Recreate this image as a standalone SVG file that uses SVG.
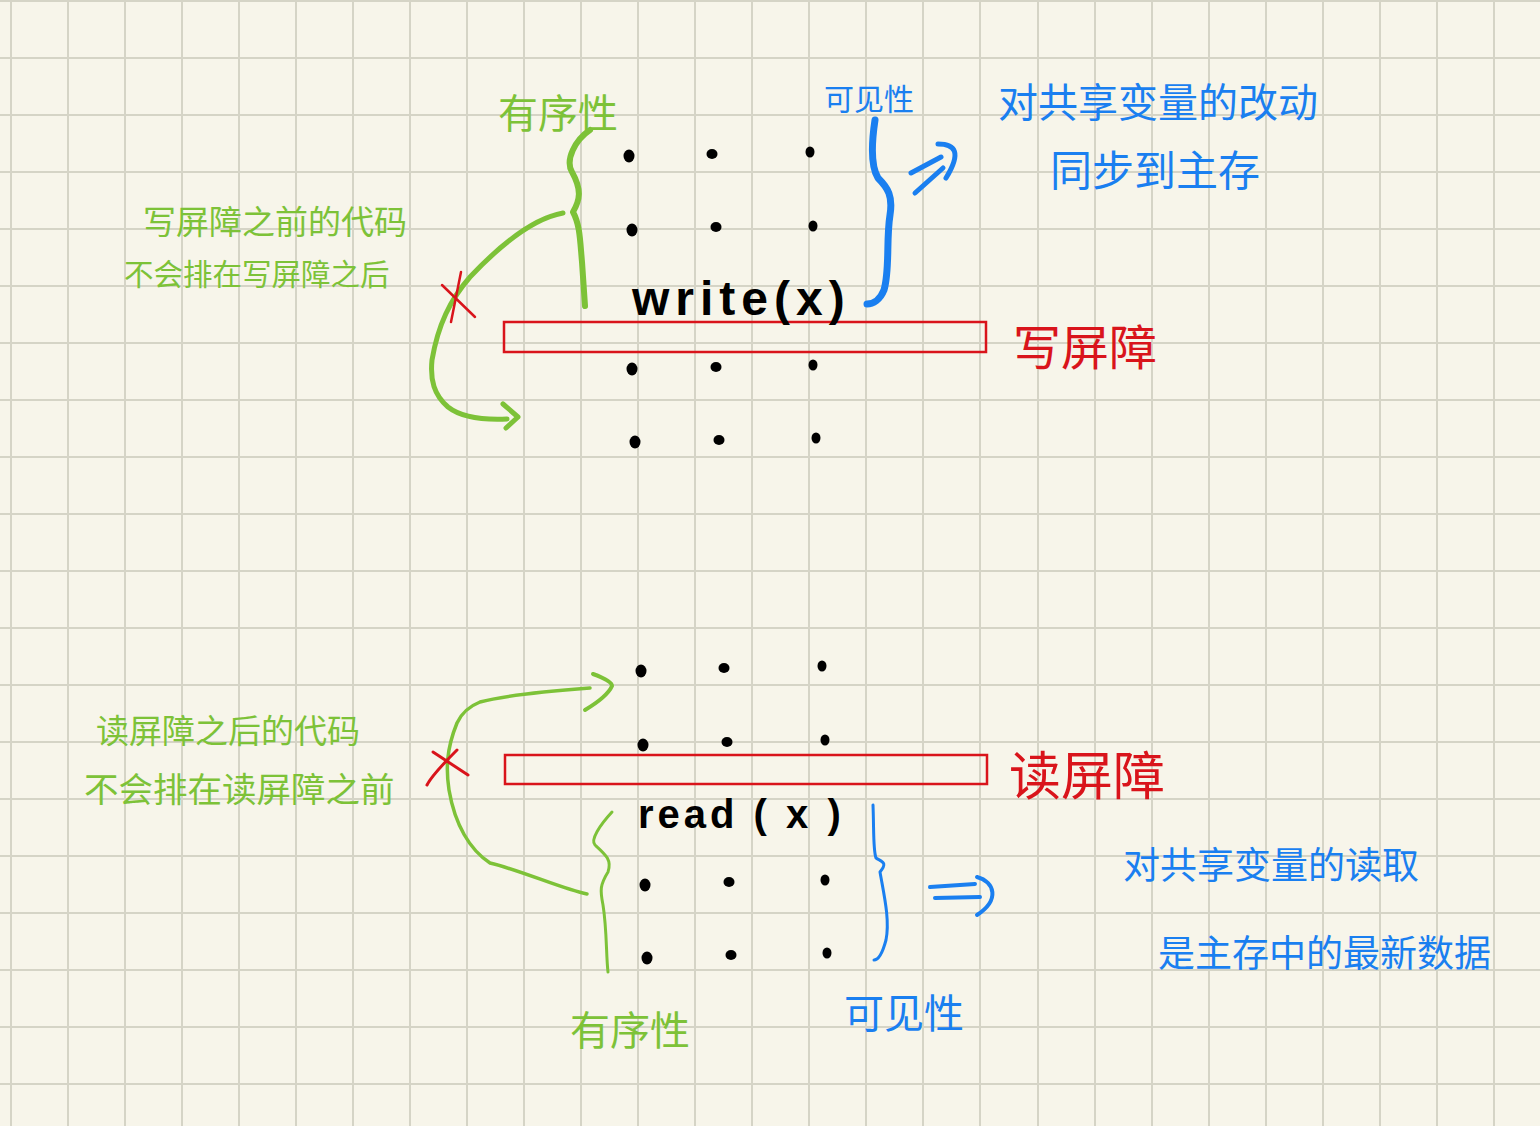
<svg xmlns="http://www.w3.org/2000/svg" width="1540" height="1126" viewBox="0 0 1540 1126">
<style>
.grid{stroke:#d5d4c6;stroke-width:2;fill:none}
.g{fill:#7dc238;font-family:"Noto Sans CJK SC",sans-serif}
.b{fill:#1a7ff0;font-family:"Noto Sans CJK SC",sans-serif}
.r{fill:#d9141b;font-family:"Noto Sans CJK SC",sans-serif}
.k{fill:#000;font-family:"Liberation Sans",sans-serif}
.gs{stroke:#7dc238;fill:none;stroke-linecap:round;stroke-linejoin:round}
.bs{stroke:#1a7ff0;fill:none;stroke-linecap:round;stroke-linejoin:round}
.rs{stroke:#d9141b;fill:none;stroke-linecap:round}
.bar{stroke:#d9141b;stroke-width:2.5;fill:none}
.dot{fill:#000}
</style>
<rect width="1540" height="1126" fill="#f7f5ea"/>
<path class="grid" d="M11,0V1126M68,0V1126M125,0V1126M182,0V1126M239,0V1126M296,0V1126M353,0V1126M410,0V1126M467,0V1126M524,0V1126M581,0V1126M638,0V1126M695,0V1126M752,0V1126M809,0V1126M866,0V1126M923,0V1126M980,0V1126M1038,0V1126M1095,0V1126M1152,0V1126M1209,0V1126M1266,0V1126M1323,0V1126M1380,0V1126M1437,0V1126M1494,0V1126M0,1H1540M0,58H1540M0,115H1540M0,172H1540M0,229H1540M0,286H1540M0,343H1540M0,400H1540M0,457H1540M0,514H1540M0,571H1540M0,628H1540M0,685H1540M0,742H1540M0,799H1540M0,856H1540M0,913H1540M0,970H1540M0,1027H1540M0,1084H1540"/>

<g id="write-barrier">
<rect class="bar" x="504" y="322" width="482" height="30"/>
<text class="r" x="1013" y="365" font-size="48">写屏障</text>
</g>
<g id="write-code">
<text class="k" x="632" y="315" font-size="48" font-weight="bold" letter-spacing="6">write(x)</text>
<ellipse class="dot" cx="629" cy="156" rx="5.5" ry="6.5"/>
<ellipse class="dot" cx="712" cy="154" rx="5.5" ry="5"/>
<ellipse class="dot" cx="810" cy="152" rx="4.5" ry="5.5"/>
<ellipse class="dot" cx="632" cy="230" rx="5.5" ry="6.5"/>
<ellipse class="dot" cx="716" cy="227" rx="5.5" ry="5"/>
<ellipse class="dot" cx="813" cy="226" rx="4.5" ry="5.5"/>
<ellipse class="dot" cx="632" cy="369" rx="5.5" ry="6.5"/>
<ellipse class="dot" cx="716" cy="367" rx="5.5" ry="5"/>
<ellipse class="dot" cx="813" cy="365" rx="4.5" ry="5.5"/>
<ellipse class="dot" cx="635" cy="442" rx="5.5" ry="6.5"/>
<ellipse class="dot" cx="719" cy="440" rx="5.5" ry="5"/>
<ellipse class="dot" cx="816" cy="438" rx="4.5" ry="5.5"/>
</g>
<g id="write-order-label">
<text class="g" x="498" y="128" font-size="40">有序性</text>
</g>
<g id="write-visibility-label">
<text class="b" x="824" y="110" font-size="30">可见性</text>
</g>
<g id="write-note">
<text class="g" x="143" y="234" font-size="33">写屏障之前的代码</text>
<text class="g" x="124" y="285" font-size="29.5">不会排在写屏障之后</text>
</g>
<g id="write-result">
<text class="b" x="998" y="117" font-size="40">对共享变量的改动</text>
<text class="b" x="1050" y="186" font-size="42">同步到主存</text>
</g>

<g id="read-barrier">
<rect class="bar" x="505" y="755" width="482" height="29"/>
<text class="r" x="1009" y="795" font-size="52">读屏障</text>
</g>
<g id="read-code">
<text class="k" x="638" y="828" font-size="40" font-weight="bold" letter-spacing="4">read ( x )</text>
<ellipse class="dot" cx="641" cy="671" rx="5.5" ry="6.5"/>
<ellipse class="dot" cx="724" cy="668" rx="5.5" ry="5"/>
<ellipse class="dot" cx="822" cy="666" rx="4.5" ry="5.5"/>
<ellipse class="dot" cx="643" cy="745" rx="5.5" ry="6.5"/>
<ellipse class="dot" cx="727" cy="742" rx="5.5" ry="5"/>
<ellipse class="dot" cx="825" cy="740" rx="4.5" ry="5.5"/>
<ellipse class="dot" cx="645" cy="885" rx="5.5" ry="6.5"/>
<ellipse class="dot" cx="729" cy="882" rx="5.5" ry="5"/>
<ellipse class="dot" cx="825" cy="880" rx="4.5" ry="5.5"/>
<ellipse class="dot" cx="647" cy="958" rx="5.5" ry="6.5"/>
<ellipse class="dot" cx="731" cy="955" rx="5.5" ry="5"/>
<ellipse class="dot" cx="827" cy="953" rx="4.5" ry="5.5"/>
</g>
<g id="read-note">
<text class="g" x="96" y="743" font-size="33">读屏障之后的代码</text>
<text class="g" x="84" y="802" font-size="34.5">不会排在读屏障之前</text>
</g>
<g id="read-order-label">
<text class="g" x="570" y="1045" font-size="40">有序性</text>
</g>
<g id="read-visibility-label">
<text class="b" x="844" y="1028" font-size="40">可见性</text>
</g>
<g id="read-result">
<text class="b" x="1123" y="879" font-size="37">对共享变量的读取</text>
<text class="b" x="1158" y="967" font-size="37">是主存中的最新数据</text>
</g>

<g id="connectors">
<path class="gs" stroke-width="6" d="M590,130 C575,140 565,160 572,172 C582,190 580,200 573,212 C580,225 580,240 582,262 L585,306"/>
<path class="bs" stroke-width="7" d="M875,120 C872,140 870,165 878,178 C888,188 893,196 890,215 C886,240 890,270 884,290 C880,300 873,304 867,304"/>
<path class="bs" stroke-width="5" d="M911,173 L941,157 M915,193 L943,168 M938,144 C955,144 962,152 946,178"/>
<path class="gs" stroke-width="5" d="M563,213 C535,218 505,240 470,277 C450,300 438,325 432,360 C430,380 434,395 448,407 C462,418 485,420 507,419"/>
<path class="gs" stroke-width="5" d="M503,404 L518,417 L506,428"/>
<path class="rs" stroke-width="2.5" d="M442,285 L475,317 M461,272 L451,322"/>

<path class="gs" stroke-width="3" d="M612,812 C600,825 590,840 595,845 C606,855 612,860 608,872 C600,885 600,890 603,905 C607,930 606,955 608,972"/>
<path class="bs" stroke-width="3" d="M873,805 C874,830 873,850 876,858 C882,862 888,862 880,872 C884,895 890,920 886,940 C882,955 878,960 874,960"/>
<path class="bs" stroke-width="4" d="M930,887 L975,884 M935,898 L980,897 M977,877 C995,882 1000,900 977,915"/>
<path class="gs" stroke-width="3.5" d="M587,894 C565,890 520,870 490,863 C470,850 455,825 449,790 C446,770 446,750 457,723 C462,712 470,706 480,702 C505,695 550,691 590,688"/>
<path class="gs" stroke-width="4" d="M593,674 C604,678 612,682 612,686 C608,695 595,704 585,710"/>
<path class="rs" stroke-width="3" d="M433,752 L468,775 M457,750 C445,762 432,775 427,785"/>
</g>
</svg>
